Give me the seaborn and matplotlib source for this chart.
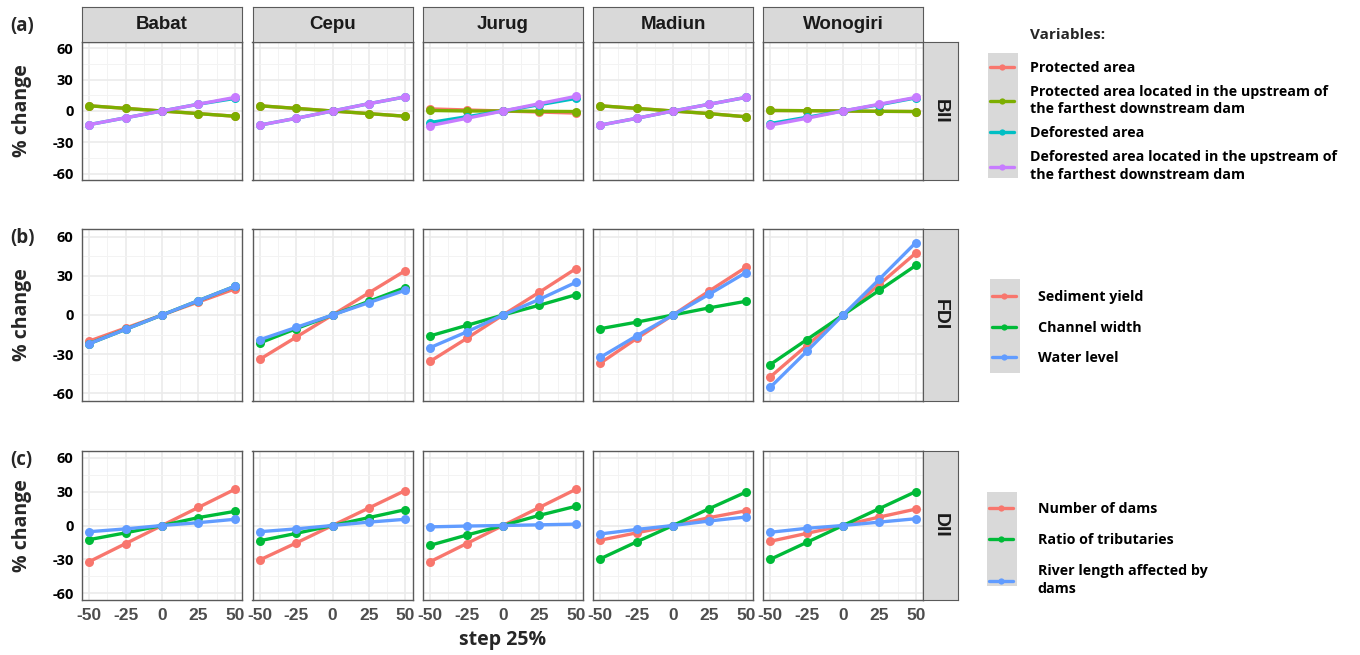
import matplotlib.pyplot as plt
import pandas as pd
import seaborn as sns
from matplotlib.lines import Line2D
from matplotlib.patches import Rectangle
from matplotlib.ticker import MultipleLocator

# data: % change of each index per perturbation step
steps = [-50, -25, 0, 25, 50]
stations = ['Babat', 'Cepu', 'Jurug', 'Madiun', 'Wonogiri']

# (a) BII, one row per station
bii_protected = [[5, 2.5, 0, -2.5, -5], [5, 2.5, 0, -2.5, -5], [2, 1, 0, -1, -2],
                 [5, 2.5, 0, -2.5, -5.5], [0.5, 0.3, 0, -0.3, -0.5]]
bii_protected_up = [[5, 2.5, 0, -2.5, -5], [5, 2.5, 0, -2.5, -5], [0.5, 0, 0, -0.3, -0.5],
                    [5, 2.5, 0, -2.5, -5.5], [0.5, 0.3, 0, -0.3, -0.5]]
bii_deforested = [[-13, -6.5, 0, 6.5, 12], [-13.5, -7, 0, 7, 13.5], [-11, -5.5, 0, 6, 12],
                  [-13.5, -7, 0, 6.5, 13], [-12, -6, 0, 6, 12.5]]
bii_deforested_up = [[-13, -6.5, 0, 6.5, 13], [-13.5, -7, 0, 7, 13.5], [-14, -7, 0, 7, 14],
                     [-13.5, -7, 0, 6.5, 13], [-13.5, -7, 0, 6.5, 13]]

# (b) FDI
fdi_sediment = [[-20, -10, 0, 10, 20], [-34, -17, 0, 17, 34], [-35.5, -18, 0, 17.5, 35.5],
                [-37, -18, 0, 18.5, 36.5], [-47.5, -23.5, 0, 23.5, 47.5]]
fdi_channel = [[-22, -11, 0, 11, 22], [-21.5, -10.5, 0, 10.5, 21], [-16, -8, 0, 7.5, 15.5],
               [-10.5, -5.5, 0, 5.5, 10.5], [-38, -19, 0, 19, 38]]
fdi_water = [[-22, -11, 0, 11, 22], [-19, -9.5, 0, 9.5, 19], [-25, -13, 0, 12, 25],
             [-32.5, -16, 0, 16, 32.5], [-55.5, -28, 0, 27.5, 55.5]]

# (c) DII
dii_dams = [[-32, -16, 0, 16, 32], [-30.5, -15.5, 0, 15.5, 31], [-32, -16, 0, 16, 32],
            [-13, -6.5, 0, 7, 13], [-14, -7, 0, 7.5, 14.5]]
dii_tributaries = [[-12.5, -6.5, 0, 7, 12.5], [-13.5, -7, 0, 7, 14], [-17.5, -8.5, 0, 9, 17],
                   [-29.5, -14.5, 0, 15, 29.5], [-30, -15, 0, 15, 30]]
dii_river_length = [[-5.5, -3, 0, 2.5, 5.5], [-5.5, -3, 0, 3, 5.5], [-1.2, -0.5, 0, 0.6, 1.2],
                    [-7.5, -3.5, 0, 4, 7.5], [-6, -2.5, 0, 3, 6]]

bii_labels = ['Protected area',
              'Protected area located in the upstream of\nthe farthest downstream dam',
              'Deforested area',
              'Deforested area located in the upstream of\nthe farthest downstream dam']
fdi_labels = ['Sediment yield', 'Channel width', 'Water level']
dii_labels = ['Number of dams', 'Ratio of tributaries', 'River length affected by\ndams']

bii_colors = ['#F8766D', '#7CAE00', '#00BFC4', '#C77CFF']
fdi_colors = ['#F8766D', '#00BA38', '#619CFF']

rows = [
    ('BII', bii_labels, [bii_protected, bii_protected_up, bii_deforested, bii_deforested_up], bii_colors),
    ('FDI', fdi_labels, [fdi_sediment, fdi_channel, fdi_water], fdi_colors),
    ('DII', dii_labels, [dii_dams, dii_tributaries, dii_river_length], fdi_colors),
]

records = []
for index, labels, series, _ in rows:
    for lab, arr in zip(labels, series):
        for s, vals in zip(stations, arr):
            for x, v in zip(steps, vals):
                records.append({'index': index, 'variable': lab, 'station': s,
                                'step': x, 'change': v})
df = pd.DataFrame(records)

sns.set_style('white')
plt.rcParams['font.family'] = ['Liberation Sans', 'DejaVu Sans']

W, H = 1360, 655
fig = plt.figure(figsize=(W / 100, H / 100), dpi=100)


def px_axes(x0, y0, x1, y1):
    return fig.add_axes([x0 / W, 1 - y1 / H, (x1 - x0) / W, (y1 - y0) / H])


col_left = [82, 252.5, 423, 593, 763]
col_w = 160
row_span = [(42, 180), (229, 401), (451, 600)]
label_font = ['Open Sans', 'DejaVu Sans']
border = '#5A5A5A'

for r, (index, labels, series, colors) in enumerate(rows):
    y0, y1 = row_span[r]
    sub = df[df['index'] == index]
    for c, st in enumerate(stations):
        ax = px_axes(col_left[c], y0, col_left[c] + col_w, y1)
        sns.lineplot(data=sub[sub['station'] == st], x='step', y='change', hue='variable',
                     hue_order=labels, palette=colors, marker='o', markersize=6.5,
                     markeredgewidth=0, linewidth=2.4, legend=False, ax=ax)
        ax.set_xlim(-55, 55)
        ax.set_ylim(-66, 66)
        ax.set_xticks(steps)
        ax.set_yticks([-60, -30, 0, 30, 60])
        ax.xaxis.set_minor_locator(MultipleLocator(12.5))
        ax.yaxis.set_minor_locator(MultipleLocator(15))
        ax.grid(which='major', color='#EBEBEB', linewidth=1.2)
        ax.grid(which='minor', color='#F3F3F3', linewidth=0.7)
        ax.set_axisbelow(True)
        for sp in ax.spines.values():
            sp.set_color(border)
            sp.set_linewidth(1.0)
        ax.tick_params(which='major', length=4, width=1, color=border, pad=2)
        ax.tick_params(which='minor', length=0)
        ax.set_xlabel('')
        ax.set_ylabel('')
        if r == 2:
            ax.set_xticklabels(['-50', '-25', '0', '25', '50'], fontsize=12.5,
                               fontweight='bold', color='#4D4D4D')
        else:
            ax.set_xticklabels([])
        if c == 0:
            ax.set_yticklabels(['-60', '-30', '0', '30', '60'], fontsize=10.5,
                               fontweight='bold', family=label_font, color='black')
        else:
            ax.set_yticklabels([])

        if r == 0:
            sax = px_axes(col_left[c], 7, col_left[c] + col_w, 42)
            sax.set_facecolor('#D9D9D9')
            sax.set_xticks([])
            sax.set_yticks([])
            for sp in sax.spines.values():
                sp.set_color(border)
            sax.text(0.5, 0.5, st, ha='center', va='center', fontsize=13.5,
                     fontweight='bold', color='#1A1A1A', transform=sax.transAxes)

    rax = px_axes(923, y0, 958, y1)
    rax.set_facecolor('#D9D9D9')
    rax.set_xticks([])
    rax.set_yticks([])
    for sp in rax.spines.values():
        sp.set_color(border)
    rax.text(0.5, 0.5, index, ha='center', va='center', rotation=270, fontsize=14,
             fontweight='bold', color='#1A1A1A', transform=rax.transAxes)

    fig.text(22 / W, 1 - (y0 + y1) / 2 / H, '% change', rotation=90, ha='center', va='center',
             fontsize=14, fontweight='bold', family=label_font)

for lab, yy in zip(['(a)', '(b)', '(c)'], [26, 238, 460]):
    fig.text(10 / W, 1 - yy / H, lab, ha='left', va='center', fontsize=13.5,
             fontweight='bold', family=label_font)

fig.text(503 / W, 1 - 640 / H, 'step 25%', ha='center', va='center', fontsize=14,
         fontweight='bold', family=label_font)

# legends, one per row, with grey key column as in ggplot
fig.text(1030 / W, 1 - 35 / H, 'Variables:', ha='left', va='center', fontsize=11,
         fontweight='bold', family=label_font)
legend_spec = [
    (bii_labels, bii_colors, (988, 53, 30, 125), 54, 0.7, 1.1),
    (fdi_labels, fdi_colors, (990, 279, 30, 94), 283, 1.15, 1.5),
    (dii_labels, fdi_colors, (987, 492, 30, 94), 495, 1.2, 1.7),
]
for labels, colors, (kx, ky, kw, kh), top, spacing, pad in legend_spec:
    fig.patches.append(Rectangle((kx / W, 1 - (ky + kh) / H), kw / W, kh / H,
                                 transform=fig.transFigure, facecolor='#D9D9D9',
                                 edgecolor='none', zorder=0))
    handles = [Line2D([], [], color=col, linewidth=2.4, marker='o', markersize=4.5,
                      markeredgewidth=0) for col in colors]
    leg = fig.legend(handles, labels, loc='upper left',
                     bbox_to_anchor=((kx - 5) / W, 1 - top / H),
                     frameon=False, handlelength=1.7, handletextpad=pad,
                     labelspacing=spacing, borderpad=0, labelcolor='black',
                     prop={'family': label_font, 'weight': 'bold', 'size': 10.3})
    for t in leg.get_texts():
        t.set_linespacing(1.3)

fig.savefig('out.png', dpi=100)
